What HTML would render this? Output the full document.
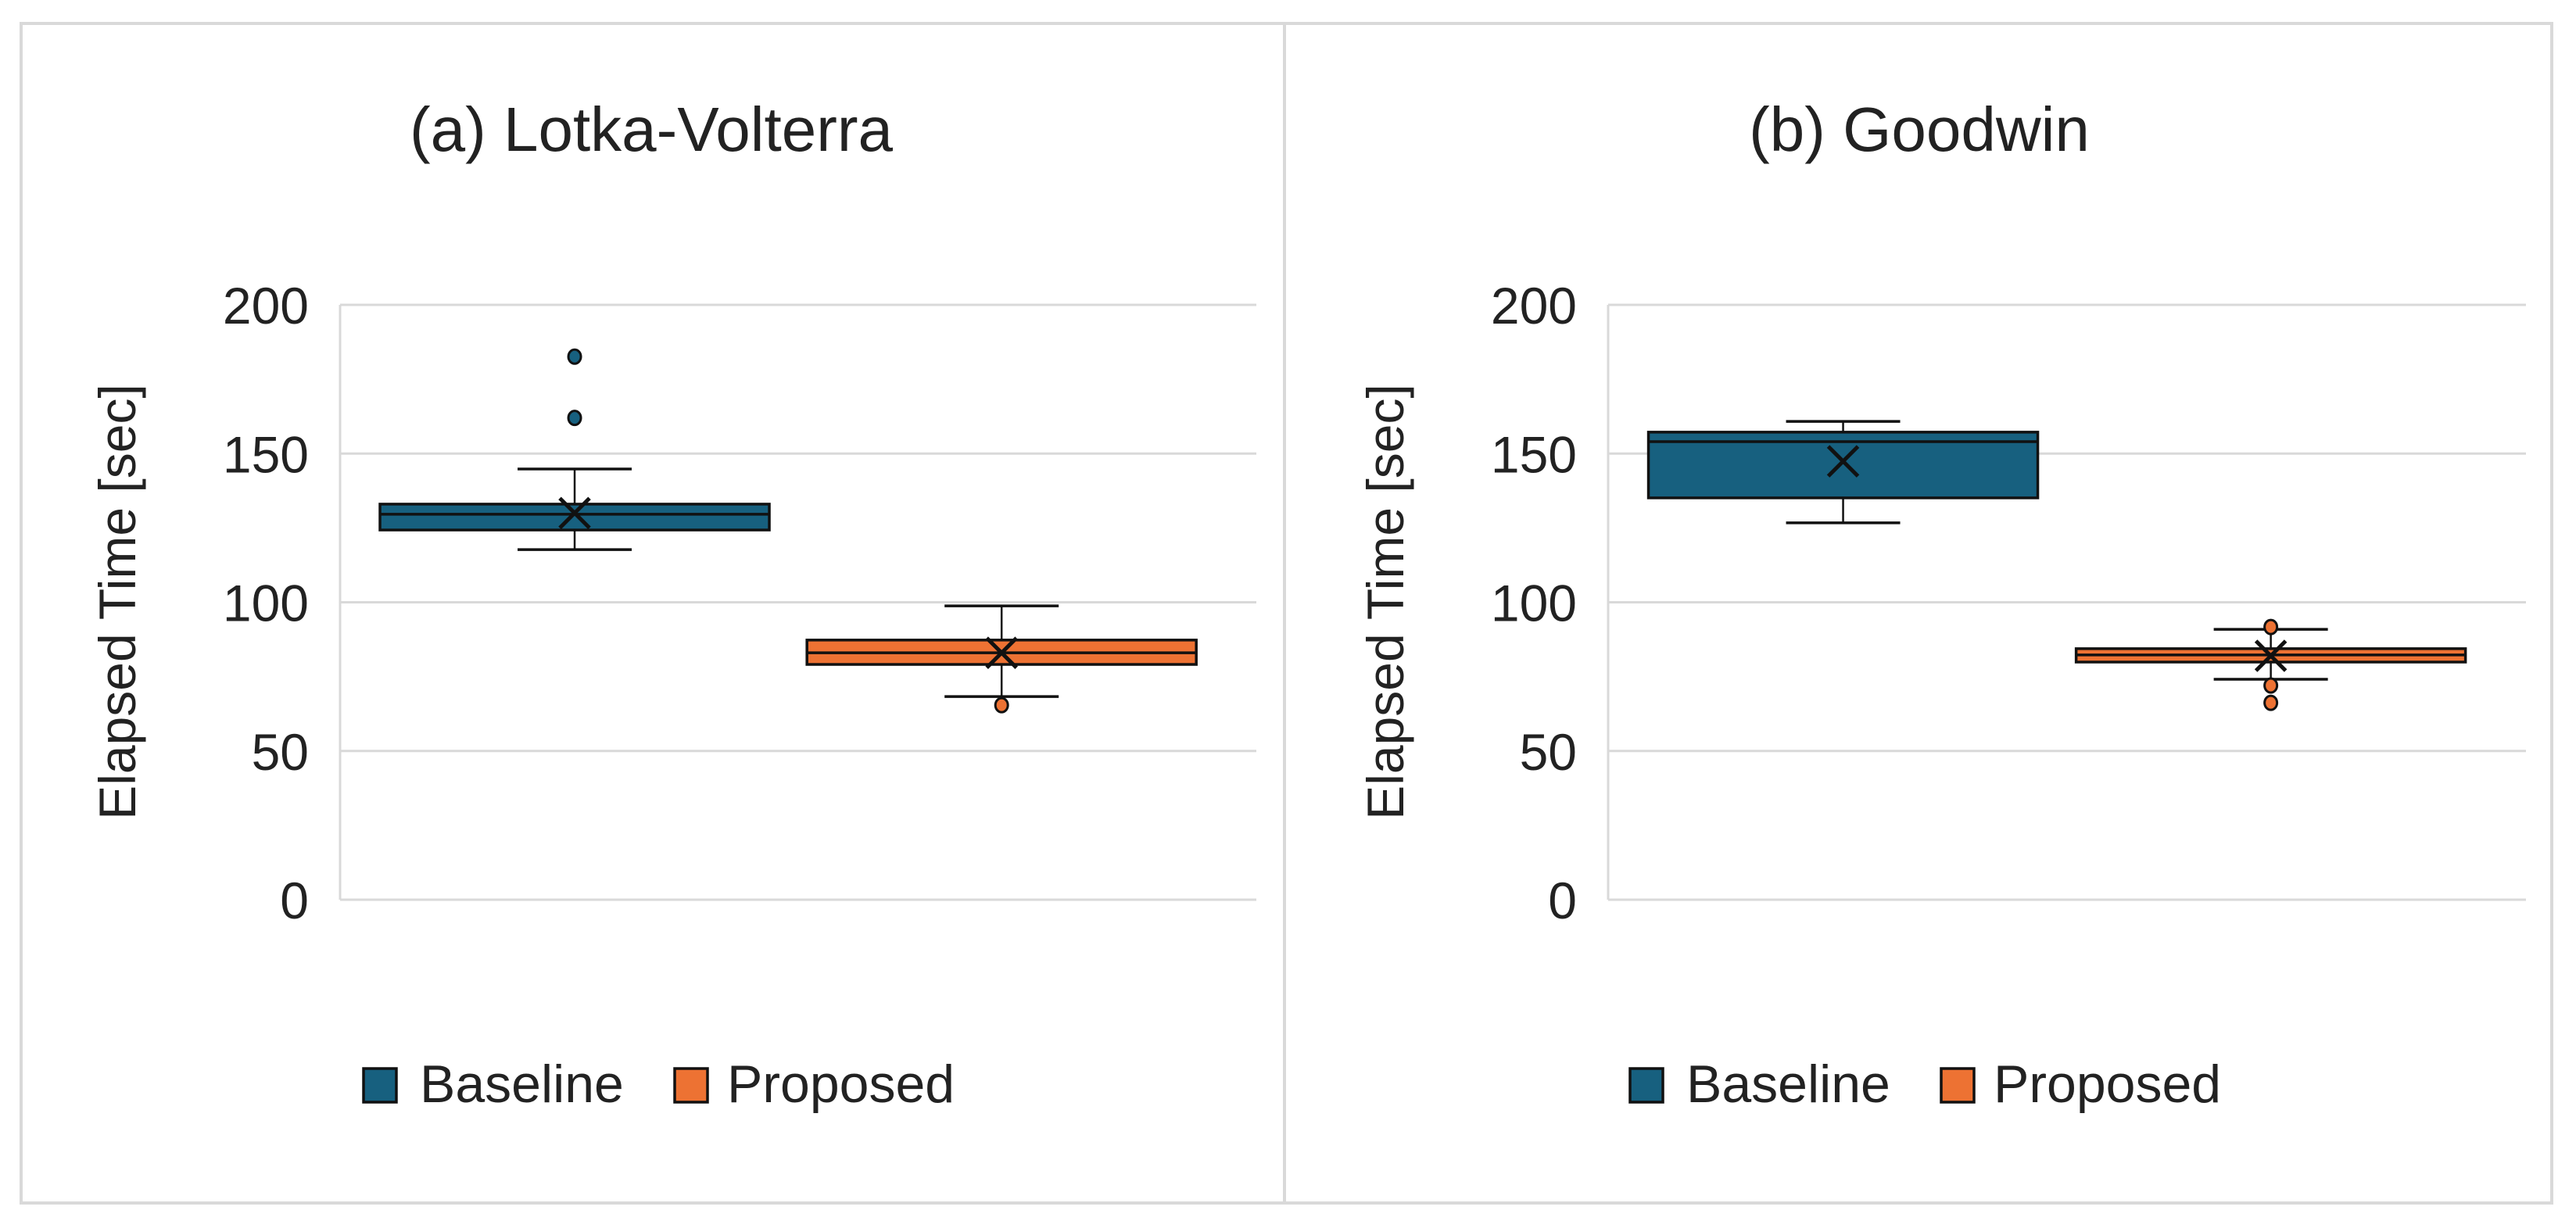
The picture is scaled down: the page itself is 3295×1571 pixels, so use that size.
<!DOCTYPE html>
<html><head><meta charset="utf-8"><style>
html,body{margin:0;padding:0;background:#fff;}
svg{display:block;font-family:"Liberation Sans",sans-serif;}
</style></head><body>
<svg id="chart" width="3295" height="1571" viewBox="0 0 3295 1571" xmlns="http://www.w3.org/2000/svg">
<rect x="27" y="30" width="3237" height="1509" fill="#fff" stroke="#d9d9d9" stroke-width="4"/>
<line x1="1643" y1="30" x2="1643" y2="1539" stroke="#d9d9d9" stroke-width="4"/>
<g id="g"></g>
</svg>
<script>
const panelTitles = ["(a) Lotka-Volterra", "(b) Goodwin"];
const seriesNames = ["Baseline", "Proposed"];
const yTicks = [0, 50, 100, 150, 200];
// per panel, per series: [whiskerLow, q1, median, q3, whiskerHigh, mean]
const lvBaseline = [117.7, 124.3, 129.6, 133, 144.8, 130];
const lvProposed = [68.3, 79.1, 83, 87.3, 98.8, 83];
const gwBaseline = [126.7, 135.1, 154, 157.2, 160.8, 147.4];
const gwProposed = [74.1, 79.9, 82.3, 84.4, 90.9, 82];
const lvBaselineOutliers = [182.6, 162];
const lvProposedOutliers = [65.4];
const gwBaselineOutliers = [];
const gwProposedOutliers = [91.7, 72, 66.2];

const colors = ["#17607f", "#ed7233"];
const panels = [
  {x0:435, x1:1607, title:panelTitles[0], stats:[lvBaseline, lvProposed], outs:[lvBaselineOutliers, lvProposedOutliers], legX:465, name:'lotka-volterra'},
  {x0:2057, x1:3231, title:panelTitles[1], stats:[gwBaseline, gwProposed], outs:[gwBaselineOutliers, gwProposedOutliers], legX:2085, name:'goodwin'}
];
const yTop = 390, yBot = 1151, yMax = 200;
function yScale(v){ return yBot - (v / yMax) * (yBot - yTop); }
function xBand(p, i){ const w = (p.x1 - p.x0); return p.x0 + w * (0.256 + 0.466 * i); }

const NS = "http://www.w3.org/2000/svg";
const root = document.getElementById('g');
function mk(tag, attrs, parent){
  const e = document.createElementNS(NS, tag);
  for (const k in attrs) e.setAttribute(k, attrs[k]);
  (parent || root).appendChild(e);
  return e;
}

panels.forEach((p) => {
  const g = mk('g', {});
  
  
  const t = mk('text', {x:p.x0 + 398, y:193, 'font-size':80, 'text-anchor':'middle', fill:'#222'}, g);
  t.textContent = p.title;
  
  
  yTicks.forEach(v => {
    const gl = mk('line', {x1:p.x0, x2:p.x1, y1:yScale(v), y2:yScale(v), stroke:'#d9d9d9', 'stroke-width':3}, g);
    
    
    const tl = mk('text', {x:p.x0 - 40, y:yScale(v) + 24, 'font-size':66, 'text-anchor':'end', fill:'#222'}, g);
    tl.textContent = v;
    
    
  });
  const ax = mk('line', {x1:p.x0, x2:p.x0, y1:yTop, y2:yBot, stroke:'#d9d9d9', 'stroke-width':3}, g);
  
  
  const yt = mk('text', {x:0, y:0, 'font-size':66, 'text-anchor':'middle', fill:'#222', transform:`translate(${p.x0 - 262},770) rotate(-90)`}, g);
  yt.textContent = 'Elapsed Time [sec]';
  
  

  p.stats.forEach((s, i) => {
    const cx = xBand(p, i), bw = 498, cw = 146;
    const bg = mk('g', {}, g);
    
    
    mk('line', {x1:cx, x2:cx, y1:yScale(s[4]), y2:yScale(s[3]), stroke:'#111', 'stroke-width':2.5}, bg);
    mk('line', {x1:cx, x2:cx, y1:yScale(s[1]), y2:yScale(s[0]), stroke:'#111', 'stroke-width':2.5}, bg);
    mk('line', {x1:cx - cw/2, x2:cx + cw/2, y1:yScale(s[4]), y2:yScale(s[4]), stroke:'#111', 'stroke-width':3.5}, bg);
    mk('line', {x1:cx - cw/2, x2:cx + cw/2, y1:yScale(s[0]), y2:yScale(s[0]), stroke:'#111', 'stroke-width':3.5}, bg);
    mk('rect', {x:cx - bw/2, y:yScale(s[3]), width:bw, height:yScale(s[1]) - yScale(s[3]), fill:colors[i], stroke:'#111', 'stroke-width':3.5}, bg);
    mk('line', {x1:cx - bw/2, x2:cx + bw/2, y1:yScale(s[2]), y2:yScale(s[2]), stroke:'#111', 'stroke-width':3.5}, bg);
    const my = yScale(s[5]), d = 19;
    const mx = mk('path', {d:`M${cx-d},${my-d}L${cx+d},${my+d}M${cx-d},${my+d}L${cx+d},${my-d}`, stroke:'#111', 'stroke-width':5, fill:'none'}, bg);
    
    
    p.outs[i].forEach(v => {
      const o = mk('ellipse', {cx:cx, cy:yScale(v), rx:8, ry:9, fill:colors[i], stroke:'#111', 'stroke-width':3}, g);
      
      
    });
  });

  const legOff = [0, 398];
  const txtOff = [72, 465];
  seriesNames.forEach((n, i) => {
    const lg = mk('g', {}, g);
    
    
    mk('rect', {x:p.legX + legOff[i], y:1367, width:42, height:43, fill:colors[i], stroke:'#111', 'stroke-width':3.5}, lg);
    const lt = mk('text', {x:p.legX + txtOff[i], y:1410, 'font-size':68, fill:'#222'}, lg);
    lt.textContent = n;
  });
});
</script>
</body></html>
